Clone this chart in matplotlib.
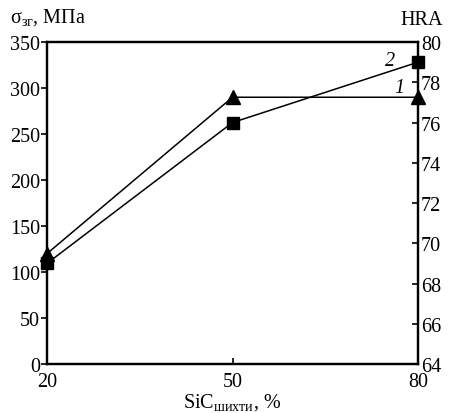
import matplotlib
matplotlib.use("Agg")
import matplotlib.pyplot as plt

plt.rcParams['font.family'] = ['Liberation Serif', 'DejaVu Serif']
plt.rcParams['mathtext.fontset'] = 'custom'
plt.rcParams['mathtext.rm'] = 'Liberation Serif'
plt.rcParams['mathtext.it'] = 'Liberation Serif:italic'

sic = [20, 50, 80]
sigma = [120, 290, 290]      # curve 1, left axis, MPa
hra = [69, 76, 79]           # curve 2, right axis, HRA
left_ticks = [0, 50, 100, 150, 200, 250, 300, 350]
right_ticks = [64, 66, 68, 70, 72, 74, 76, 78, 80]

FS = 14.5

fig = plt.figure(figsize=(4.49, 4.14), dpi=100)
ax = fig.add_axes([0.1047, 0.1184, 0.8263, 0.7776])
ax2 = ax.twinx()

ax.plot(sic, sigma, color='black', lw=1.1, marker='^', ms=9.5, clip_on=False, zorder=5)
ax2.plot(sic, hra, color='black', lw=1.1, marker='s', ms=8.5, clip_on=False, zorder=5)

ax.set_xlim(20, 80)
ax.set_ylim(0, 350)
ax2.set_ylim(64, 80)
ax.set_xticks(sic)
ax.set_yticks(left_ticks)
ax2.set_yticks(right_ticks)

for a in (ax, ax2):
    for s in a.spines.values():
        s.set_linewidth(1.6)

ax.tick_params(axis='y', direction='out', length=4, width=1.2, pad=1, labelsize=FS)
ax.tick_params(axis='x', direction='in', length=4, width=1.2, pad=6, labelsize=FS)
ax2.tick_params(axis='y', direction='in', length=4, width=1.2, pad=2, labelsize=FS)

fig.text(0.022, 0.958, 'σ$_{\\mathregular{зг}}$, МПа', fontsize=FS, ha='left', va='center')
fig.text(0.987, 0.950, 'HRA', fontsize=FS, ha='right', va='center')
ax.set_xlabel('SiC$_{\\mathregular{шихти}}$, %', fontsize=FS, labelpad=0)

ax.text(75.4, 330, '2', fontsize=FS, style='italic', ha='center', va='center')
ax.text(77.0, 301, '1', fontsize=FS, style='italic', ha='center', va='center')

fig.savefig('out.png', dpi=100)
